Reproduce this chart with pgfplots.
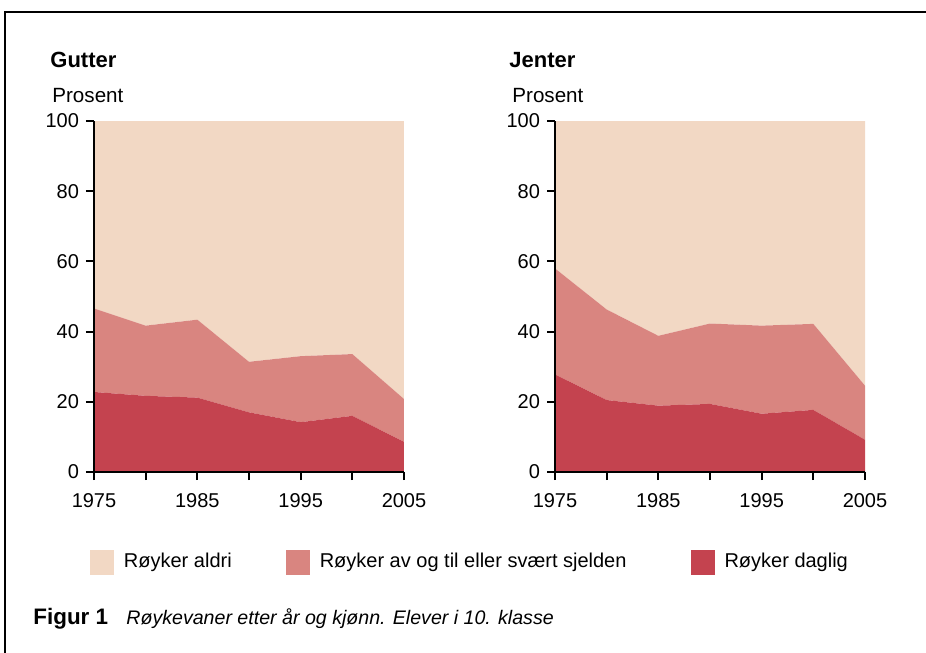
\documentclass[border=0pt]{standalone}
\usepackage{pgfplots}
\pgfplotsset{compat=1.18}
\usepackage{fontspec}
\setmainfont{Liberation Sans}
\definecolor{aldri}{RGB}{242,216,196}
\definecolor{avtil}{RGB}{217,133,128}
\definecolor{daglig}{RGB}{196,67,79}
\pgfplotsset{smoke/.style={
  scale only axis, width=155pt, height=175.5pt,
  xmin=1975, xmax=2005, ymin=0, ymax=100,
  axis lines=left, axis line style={-, line width=1pt},
  axis on top,
  xtick={1975,1980,...,2005}, xticklabels={1975,,1985,,1995,,2005},
  ytick={0,20,...,100},
  tick align=outside, major tick length=4pt,
  tick style={line width=1pt, black},
  /pgf/number format/assume math mode=true,
  /pgf/number format/1000 sep={},
  ticklabel style={font=\fontsize{10}{12}\selectfont},
  xticklabel style={yshift=-3pt},
  stack plots=y,
}}
\begin{document}
\begin{tikzpicture}
\useasboundingbox (0,0) rectangle (463pt,-326.5pt);
\draw[line width=1pt] (2.5pt,-6pt) rectangle (475pt,-345pt);
% Gutter
\begin{axis}[smoke, at={(47pt,-236pt)}, anchor=south west,
  legend columns=3,
  legend style={at={(rel axis cs:-0.013,-0.257)}, anchor=west, draw=none, fill=none,
    inner sep=0pt, outer sep=0pt, font=\fontsize{10}{12}\selectfont,
    nodes={inner sep=0pt},
    /tikz/every odd column/.append style={column sep=5pt},
    /tikz/every even column/.append style={column sep=27pt}},
  legend cell align=left,
  legend image code/.code={\fill[#1] (0pt,-6.2pt) rectangle (12pt,6.2pt);}]
\addlegendimage{fill=aldri, draw=none}
\addlegendimage{fill=avtil, draw=none}
\addlegendimage{fill=daglig, draw=none}
\legend{Røyker aldri, Røyker av og til eller svært sjelden\kern5pt\null, Røyker daglig}
\addplot[fill=daglig, draw=none, forget plot] coordinates {(1975,22.8) (1980,21.7) (1985,21.2) (1990,17.0) (1995,14.2) (2000,16.0) (2005,8.6)} \closedcycle;
\addplot[fill=avtil, draw=none, forget plot] coordinates {(1975,23.8) (1980,20.0) (1985,22.2) (1990,14.4) (1995,18.8) (2000,17.6) (2005,12.2)} \closedcycle;
\addplot[fill=aldri, draw=none, forget plot] coordinates {(1975,53.4) (1980,58.3) (1985,56.6) (1990,68.6) (1995,67.0) (2000,66.4) (2005,79.2)} \closedcycle;
\end{axis}
% Jenter
\begin{axis}[smoke, at={(277.5pt,-236pt)}, anchor=south west]
\addplot[fill=daglig, draw=none] coordinates {(1975,27.8) (1980,20.5) (1985,18.9) (1990,19.4) (1995,16.6) (2000,17.7) (2005,9.2)} \closedcycle;
\addplot[fill=avtil, draw=none] coordinates {(1975,30.2) (1980,25.8) (1985,19.9) (1990,22.9) (1995,25.1) (2000,24.5) (2005,15.4)} \closedcycle;
\addplot[fill=aldri, draw=none] coordinates {(1975,42.0) (1980,53.7) (1985,61.2) (1990,57.7) (1995,58.3) (2000,57.8) (2005,75.4)} \closedcycle;
\end{axis}
\node[anchor=west, inner sep=0pt, font=\fontsize{11}{13}\selectfont\bfseries] at (25pt,-30pt) {Gutter};
\node[anchor=west, inner sep=0pt, font=\fontsize{10.3}{12}\selectfont] at (26pt,-48pt) {Prosent};
\node[anchor=west, inner sep=0pt, font=\fontsize{11}{13}\selectfont\bfseries] at (254.5pt,-30pt) {Jenter};
\node[anchor=west, inner sep=0pt, font=\fontsize{10.3}{12}\selectfont] at (256pt,-48pt) {Prosent};
\node[anchor=west, inner sep=0pt, font=\fontsize{11.2}{13}\selectfont\bfseries] at (16.5pt,-309.5pt) {Figur 1};
\node[anchor=west, inner sep=0pt, font=\fontsize{9.8}{12}\selectfont\itshape] at (63pt,-309.5pt) {Røykevaner etter år og kjønn. Elever i 10. klasse};
\end{tikzpicture}
\end{document}
